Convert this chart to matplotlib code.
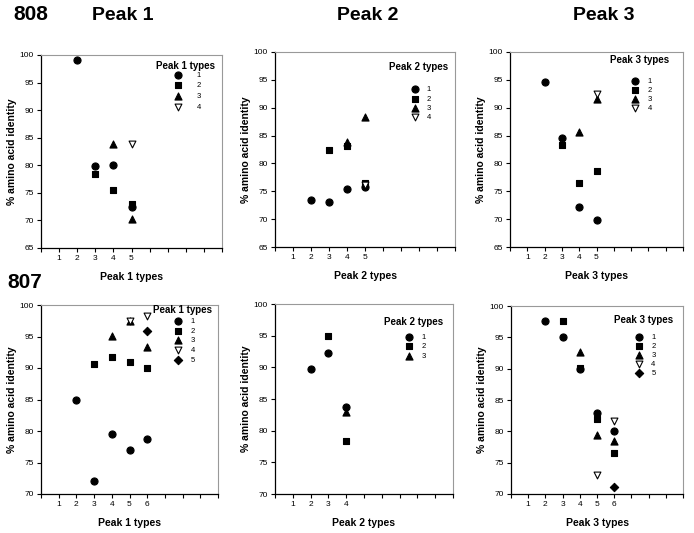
import matplotlib
matplotlib.use("Agg")
import matplotlib.pyplot as plt

plt.rcParams['font.family'] = ['Liberation Sans', 'DejaVu Sans']

# values: {type: (x positions, % identity)}
s808_peak1 = {1: ([2, 3, 4, 5], [99.1, 79.9, 80.0, 72.4]),
              2: ([3, 4, 5], [78.5, 75.6, 73.0]),
              3: ([4, 5], [83.9, 70.3]),
              4: ([5], [83.9])}
s808_peak2 = {1: ([2, 3, 4, 5], [73.5, 73.0, 75.4, 75.8]),
              2: ([3, 4, 5], [82.4, 83.1, 76.5]),
              3: ([4, 5], [83.8, 88.3]),
              4: ([5], [76.1])}
s808_peak3 = {1: ([2, 3, 4, 5], [94.7, 84.5, 72.1, 69.8]),
              2: ([3, 4, 5], [83.3, 76.5, 78.6]),
              3: ([4, 5], [85.7, 91.6]),
              4: ([5], [92.5])}
s807_peak1 = {1: ([2, 3, 4, 5, 6], [84.9, 72.0, 79.6, 77.0, 78.8]),
              2: ([3, 4, 5, 6], [90.7, 91.7, 90.9, 90.0]),
              3: ([4, 5, 6], [95.1, 97.5, 93.3]),
              4: ([5, 6], [97.5, 98.3]),
              5: ([6], [95.8])}
s807_peak2 = {1: ([2, 3, 4], [89.8, 92.3, 83.8]),
              2: ([3, 4], [95.0, 78.4]),
              3: ([4], [83.0])}
s807_peak3 = {1: ([2, 3, 4, 5, 6], [97.6, 95.1, 89.9, 83.0, 80.0]),
              2: ([3, 4, 5, 6], [97.6, 90.1, 81.9, 76.5]),
              3: ([4, 5, 6], [92.6, 79.4, 78.4]),
              4: ([5, 6], [73.1, 81.6]),
              5: ([6], [71.1])}

top_yticks = [65, 70, 75, 80, 85, 90, 95, 100]
bottom_yticks = [70, 75, 80, 85, 90, 95, 100]

MARKERS = {1: ('o', 'black'), 2: ('s', 'black'), 3: ('^', 'black'),
           4: ('v', 'white'), 5: ('D', 'black')}
SIZES = {1: 26, 2: 22, 3: 26, 4: 24, 5: 18}

W, H = 694, 533


def px_axes(fig, left, right, top, bottom):
    return fig.add_axes([left / W, 1 - bottom / H, (right - left) / W, (bottom - top) / H])


def panel(ax, data, name, yticks, nlabels, leg_anchor, spacing, sep, textpad=0.6):
    for t, (xs, ys) in data.items():
        m, fc = MARKERS[t]
        ax.scatter(xs, ys, marker=m, s=SIZES[t], facecolor=fc, edgecolor='black',
                   linewidth=0.8, label=str(t), zorder=3)
    ax.set_xlim(0, 10)
    ax.set_ylim(yticks[0], yticks[-1])
    ax.set_yticks(yticks)
    ax.set_xticks(range(0, 11))
    ax.set_xticklabels([str(i) if 1 <= i <= nlabels else '' for i in range(0, 11)])
    ax.tick_params(labelsize=6, length=3, width=0.8, pad=2)
    for side in ['top', 'right']:
        ax.spines[side].set_color('#999999')
        ax.spines[side].set_linewidth(0.8)
    for side in ['left', 'bottom']:
        ax.spines[side].set_linewidth(0.9)
    ax.set_ylabel('% amino acid identity', fontsize=7.5, fontweight='bold', labelpad=2)
    ax.set_xlabel(name + ' types', fontsize=7.5, fontweight='bold', labelpad=7)
    leg = ax.legend(loc='upper center', bbox_to_anchor=leg_anchor, frameon=False,
                    title=name + ' types', fontsize=5.5, labelspacing=spacing,
                    handletextpad=textpad, borderpad=0.2, scatterpoints=1,
                    title_fontproperties={'weight': 'bold', 'size': 7})
    leg._legend_box.sep = sep


fig = plt.figure(figsize=(W / 100, H / 100), dpi=100)

ax1 = px_axes(fig, 41, 222, 55, 248)
panel(ax1, s808_peak1, 'Peak 1', top_yticks, 5, (0.80, 0.995), 0.45, 0, textpad=1.4)
ax2 = px_axes(fig, 275, 455, 52, 247)
panel(ax2, s808_peak2, 'Peak 2', top_yticks, 5, (0.80, 0.975), 0.25, 10)
ax3 = px_axes(fig, 510, 683, 52, 247)
panel(ax3, s808_peak3, 'Peak 3', top_yticks, 5, (0.75, 1.01), 0.22, 9)
ax4 = px_axes(fig, 41, 218, 305, 494)
panel(ax4, s807_peak1, 'Peak 1', bottom_yticks, 6, (0.80, 1.03), 0.32, 2)
ax5 = px_axes(fig, 275, 453, 304, 494)
panel(ax5, s807_peak2, 'Peak 2', bottom_yticks, 4, (0.78, 0.96), 0.25, 5)
ax6 = px_axes(fig, 511, 683, 306, 494)
panel(ax6, s807_peak3, 'Peak 3', bottom_yticks, 6, (0.77, 0.98), 0.22, 6)

fig.text(13 / W, 1 - 15 / H, '808', fontsize=15, fontweight='bold', va='center', ha='left')
fig.text(7 / W, 1 - 283 / H, '807', fontsize=15, fontweight='bold', va='center', ha='left')
for x, t in [(123, 'Peak 1'), (368, 'Peak 2'), (604, 'Peak 3')]:
    fig.text(x / W, 1 - 15 / H, t, fontsize=14, fontweight='bold', va='center', ha='center')

fig.savefig('out.png', dpi=100)
